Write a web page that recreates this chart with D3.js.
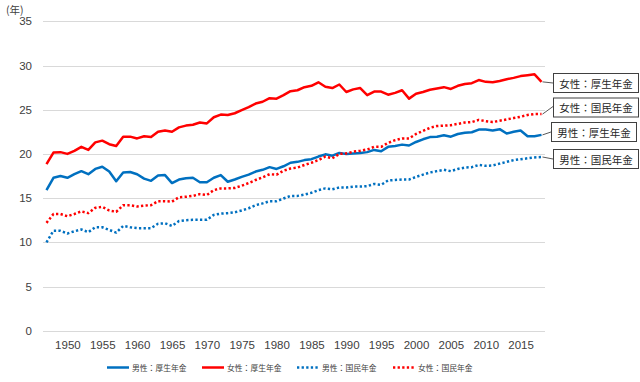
<!DOCTYPE html>
<html><head><meta charset="utf-8">
<script src="https://cdn.jsdelivr.net/npm/d3@7"></script>
<style>body{margin:0;background:#fff;}svg{display:block;}</style>
</head><body>
<svg id="c" width="640" height="382"></svg>
<script>
const years = d3.range(1947, 2019);
const maleKosei = [15.9,17.3,17.5,17.3,17.7,18.05,17.7,18.3,18.55,18.0,16.9,17.9,17.95,17.7,17.2,16.95,17.55,17.6,16.7,17.1,17.25,17.3,16.8,16.8,17.3,17.6,16.85,17.1,17.4,17.65,18.0,18.2,18.5,18.3,18.6,19.0,19.1,19.3,19.4,19.7,19.95,19.8,20.1,20.0,20.05,20.1,20.2,20.45,20.3,20.8,20.9,21.05,20.95,21.35,21.65,21.9,21.95,22.1,21.95,22.25,22.4,22.45,22.75,22.75,22.65,22.8,22.3,22.5,22.65,22.0,22.0,22.15];
const femaleKosei = [18.85,20.15,20.2,20.0,20.35,20.8,20.45,21.3,21.5,21.1,20.9,21.95,21.95,21.75,22.0,21.9,22.5,22.65,22.5,23.0,23.2,23.3,23.55,23.45,24.15,24.45,24.4,24.6,24.95,25.3,25.7,25.9,26.3,26.25,26.65,27.1,27.2,27.55,27.7,28.1,27.6,27.45,27.85,27.0,27.3,27.45,26.65,27.05,27.05,26.7,26.9,27.2,26.25,26.8,27.0,27.25,27.4,27.55,27.35,27.7,27.9,28.0,28.35,28.15,28.1,28.25,28.45,28.6,28.8,28.9,29.0,28.15];
const maleKokumin = [10.0,11.3,11.3,11.0,11.25,11.45,11.15,11.7,11.7,11.4,11.1,11.85,11.7,11.6,11.6,11.6,12.1,12.15,11.85,12.4,12.5,12.55,12.55,12.55,13.1,13.25,13.3,13.4,13.6,13.85,14.2,14.4,14.65,14.65,14.95,15.25,15.25,15.4,15.6,15.9,16.1,16.0,16.2,16.2,16.3,16.3,16.35,16.6,16.5,17.0,17.05,17.1,17.1,17.4,17.65,17.9,18.05,18.2,18.05,18.3,18.45,18.5,18.75,18.65,18.7,18.9,19.1,19.3,19.4,19.5,19.6,19.65];
const femaleKokumin = [12.2,13.2,13.2,12.95,13.2,13.5,13.3,13.9,14.0,13.6,13.45,14.2,14.2,14.05,14.15,14.2,14.65,14.65,14.6,15.1,15.15,15.25,15.45,15.35,15.9,16.1,16.1,16.15,16.4,16.7,17.05,17.35,17.7,17.65,18.1,18.35,18.45,18.75,19.0,19.3,19.7,19.5,20.0,20.05,20.25,20.35,20.5,20.8,20.8,21.25,21.55,21.75,21.75,22.25,22.6,22.95,23.15,23.2,23.25,23.4,23.55,23.6,23.85,23.7,23.6,23.75,23.9,24.05,24.2,24.4,24.5,24.5];
const yTicks = [0,5,10,15,20,25,30,35];
const xTickYears = [1950,1955,1960,1965,1970,1975,1980,1985,1990,1995,2000,2005,2010,2015];
const seriesNames = ["男性：厚生年金","女性：厚生年金","男性：国民年金","女性：国民年金"];
const yUnit = "(年)";

const series = [
  {name: seriesNames[0], values: maleKosei, color: "#0070C0", dotted: false},
  {name: seriesNames[1], values: femaleKosei, color: "#FF0000", dotted: false},
  {name: seriesNames[2], values: maleKokumin, color: "#0070C0", dotted: true},
  {name: seriesNames[3], values: femaleKokumin, color: "#FF0000", dotted: true}
];

const svg = d3.select("#c");
const font = "'Liberation Sans', Arial, sans-serif";
const jfont = "'Noto Sans CJK JP', sans-serif";
const x = d3.scalePoint().domain(years).range([43, 545]).padding(0.5);
const y = d3.scaleLinear().domain([0, 35]).range([330.7, 21.3]);

// grid
svg.append("g").selectAll("line").data(yTicks).join("line")
  .attr("x1", 43).attr("x2", 545)
  .attr("y1", d => Math.round(y(d)) + 0.5).attr("y2", d => Math.round(y(d)) + 0.5)
  .attr("stroke", "#d9d9d9").attr("stroke-width", 1);

// y axis labels
const yAxis = d3.axisLeft(y).tickValues(yTicks).tickSize(0).tickPadding(0);
const ya = svg.append("g").attr("transform", "translate(32,0)").call(yAxis);
ya.select(".domain").remove();
ya.selectAll("text").attr("font-family", font).attr("font-size", 11.5).attr("fill", "#404040");

svg.append("text").attr("x", 6).attr("y", 14).text(yUnit)
  .attr("font-family", jfont).attr("font-size", 10.5).attr("fill", "#404040");

// x axis labels
const xAxis = d3.axisBottom(x).tickValues(xTickYears).tickSize(0).tickPadding(0);
const xa = svg.append("g").attr("transform", "translate(0,341)").call(xAxis);
xa.select(".domain").remove();
xa.selectAll("text").attr("font-family", font).attr("font-size", 11.5).attr("fill", "#404040").attr("dy", "0.71em");

// lines
const line = d3.line().x((d, i) => x(years[i])).y(d => y(d));
series.forEach(s => {
  svg.append("path").datum(s.values).attr("d", line)
    .attr("fill", "none").attr("stroke", s.color)
    .attr("stroke-width", 2.5)
    .attr("stroke-linejoin", "round")
    .attr("stroke-dasharray", s.dotted ? "2.3,2.3" : null);
});

// end labels
const labelDefs = [
  {s: series[1], bx: 553, by: 73, bw: 85, bh: 19, cy: 83},
  {s: series[3], bx: 553, by: 97.5, bw: 85, bh: 19, cy: 106.5},
  {s: series[0], bx: 551, by: 122, bw: 85, bh: 19, cy: 132},
  {s: series[2], bx: 553, by: 149, bw: 85, bh: 19, cy: 159}
];
const last = years[years.length - 1];
labelDefs.forEach(l => {
  const v = l.s.values[l.s.values.length - 1];
  svg.append("line").attr("x1", x(last) + 1).attr("y1", y(v))
    .attr("x2", l.bx).attr("y2", l.cy)
    .attr("stroke", "#595959").attr("stroke-width", 1);
  svg.append("rect").attr("x", l.bx + 0.5).attr("y", l.by + 0.5)
    .attr("width", l.bw).attr("height", l.bh)
    .attr("fill", "#fff").attr("stroke", "#404040").attr("stroke-width", 1);
  svg.append("text").attr("x", l.bx + l.bw / 2 + 0.5).attr("y", l.by + l.bh / 2 + 0.5)
    .attr("text-anchor", "middle").attr("dominant-baseline", "central")
    .attr("font-family", jfont).attr("font-size", 10.5).attr("fill", "#262626")
    .text(l.s.name);
});

// legend
const legendPos = [107, 202, 297, 393];
const lg = svg.append("g");
series.forEach((s, i) => {
  const lx = legendPos[i];
  lg.append("line").attr("x1", lx).attr("x2", lx + 22).attr("y1", 367.5).attr("y2", 367.5)
    .attr("stroke", s.color).attr("stroke-width", 2.5)
    .attr("stroke-dasharray", s.dotted ? "2.3,2.3" : null);
  lg.append("text").attr("x", lx + 25).attr("y", 367.5)
    .attr("dominant-baseline", "central")
    .attr("font-family", jfont).attr("font-size", 7.8).attr("fill", "#404040")
    .text(s.name);
});
</script>
</body></html>
